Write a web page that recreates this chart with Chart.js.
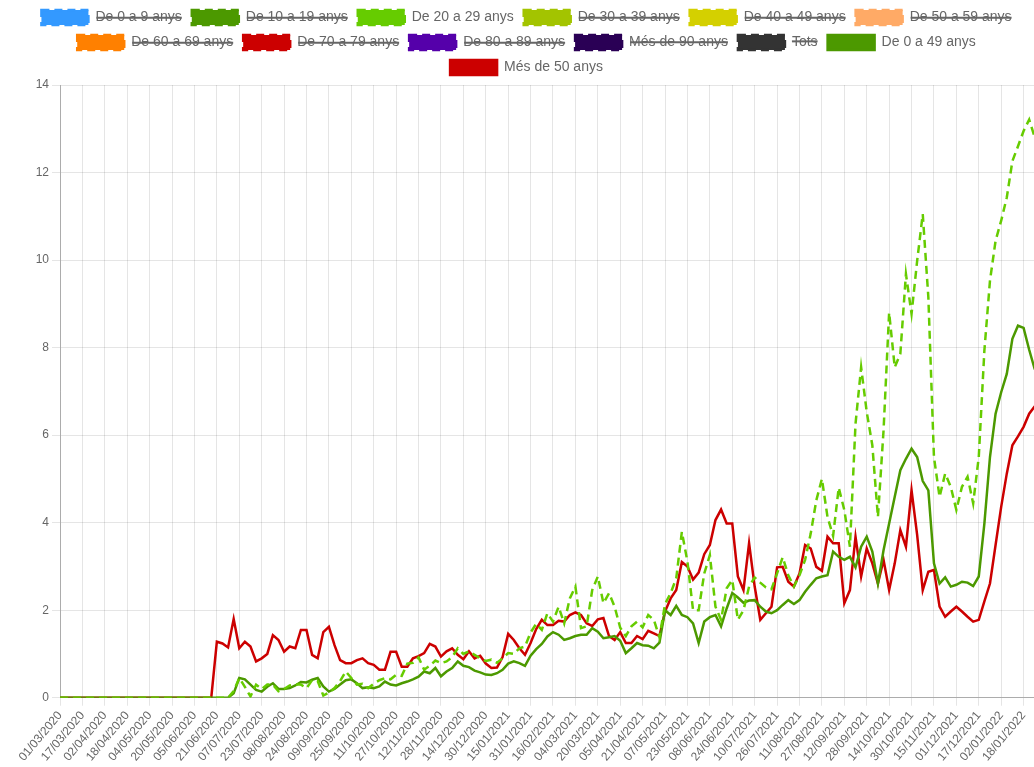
<!DOCTYPE html>
<html>
<head>
<meta charset="utf-8">
<script src="https://cdn.jsdelivr.net/npm/chart.js@4.4.0/dist/chart.umd.min.js"></script>
<style>
  html, body { margin: 0; padding: 0; overflow: hidden; background: #fff; }
  #wrap { position: relative; width: 1053px; height: 767px; }
</style>
</head>
<body>
<div id="wrap"><canvas id="chart"></canvas></div>
<script>
// Tick labels shown on the x axis (one every 16 days)
const tickLabels = [
  "01/03/2020", "17/03/2020", "02/04/2020", "18/04/2020", "04/05/2020", "20/05/2020",
  "05/06/2020", "21/06/2020", "07/07/2020", "23/07/2020", "08/08/2020", "24/08/2020",
  "09/09/2020", "25/09/2020", "11/10/2020", "27/10/2020", "12/11/2020", "28/11/2020",
  "14/12/2020", "30/12/2020", "15/01/2021", "31/01/2021", "16/02/2021", "04/03/2021",
  "20/03/2021", "05/04/2021", "21/04/2021", "07/05/2021", "23/05/2021", "08/06/2021",
  "24/06/2021", "10/07/2021", "26/07/2021", "11/08/2021", "27/08/2021", "12/09/2021",
  "28/09/2021", "14/10/2021", "30/10/2021", "15/11/2021", "01/12/2021", "17/12/2021",
  "02/01/2022", "18/01/2022"
];
const tickEvery = 16; // days between labels
const dayStep = 4;    // values below are read every 4 days from 01/03/2020

// Legend entries (datasets)
const groupNames = [
  "De 0 a 9 anys", "De 10 a 19 anys", "De 20 a 29 anys", "De 30 a 39 anys",
  "De 40 a 49 anys", "De 50 a 59 anys", "De 60 a 69 anys", "De 70 a 79 anys",
  "De 80 a 89 anys", "Més de 90 anys", "Tots", "De 0 a 49 anys", "Més de 50 anys"
];
const groupColors = [
  "#3399ff", "#4c9900", "#66cc00", "#a3c400", "#d4d000", "#ffaa66", "#ff8000",
  "#cc0000", "#5500aa", "#2a0055", "#333333", "#4c9900", "#cc0000"
];
const visibleGroups = ["De 20 a 29 anys", "De 0 a 49 anys", "Més de 50 anys"];
const dashedGroups = 11; // the first 11 datasets are dashed lines

// De 20 a 29 anys
const age20to29 = [
  0, 0, 0, 0, 0, 0, 0, 0, 0, 0, 0, 0, 0, 0, 0, 0, 0, 0, 0, 0, 0, 0, 0, 0, 0, 0, 0, 0, 0, 0, 0,
  0.15, 0.45, 0.25, 0.03, 0.3, 0.2, 0.3, 0.3, 0.15, 0.2, 0.28, 0.3, 0.3, 0.22, 0.4, 0.38,
  0.05, 0.12, 0.22, 0.38, 0.6, 0.45, 0.3, 0.32, 0.22, 0.32, 0.4, 0.45, 0.42, 0.52, 0.5,
  0.78, 0.8, 0.92, 0.64, 0.73, 0.85, 0.79, 0.83, 0.93, 1.13, 1.0, 1.06, 0.98, 0.9, 0.84,
  0.87, 0.8, 0.9, 1.02, 1.0, 1.13, 1.17, 1.49, 1.69, 1.55, 1.93, 1.74, 2.08, 1.7, 2.27,
  2.54, 1.59, 1.63, 2.46, 2.77, 2.16, 2.39, 2.08, 1.6, 1.41, 1.63, 1.74, 1.61, 1.89, 1.78,
  1.38, 2.14, 2.39, 2.73, 3.79, 3.11, 2.0, 2.0, 2.84, 3.26, 2.08, 1.78, 2.5, 2.69, 1.78,
  2.0, 2.54, 2.75, 2.63, 2.52, 2.48, 2.84, 3.21, 2.8, 2.54, 2.8, 3.15, 3.75, 4.51, 5.0,
  4.13, 3.7, 4.8, 4.29, 3.45, 6.26, 7.55, 6.53, 5.77, 4.13, 6.1, 8.8, 7.55, 7.86, 9.68,
  8.77, 9.98, 11.05, 9.15, 5.5, 4.59, 5.12, 4.82, 4.29, 4.82, 5.05, 4.44, 5.5, 7.93, 9.53,
  10.44, 10.9, 11.43, 12.26, 12.6, 12.95, 13.21, 12.8
];

// De 0 a 49 anys
const age0to49 = [
  0, 0, 0, 0, 0, 0, 0, 0, 0, 0, 0, 0, 0, 0, 0, 0, 0, 0, 0, 0, 0, 0, 0, 0, 0, 0, 0, 0, 0, 0, 0,
  0.1, 0.45, 0.42, 0.3, 0.18, 0.14, 0.25, 0.33, 0.2, 0.2, 0.22, 0.28, 0.36, 0.35, 0.41, 0.45,
  0.26, 0.14, 0.2, 0.3, 0.4, 0.42, 0.33, 0.22, 0.24, 0.22, 0.26, 0.37, 0.3, 0.28, 0.33,
  0.37, 0.42, 0.48, 0.6, 0.56, 0.68, 0.49, 0.6, 0.68, 0.83, 0.73, 0.7, 0.62, 0.58, 0.53,
  0.52, 0.56, 0.64, 0.78, 0.83, 0.79, 0.73, 0.96, 1.11, 1.23, 1.4, 1.5, 1.44, 1.32, 1.36,
  1.41, 1.44, 1.44, 1.59, 1.51, 1.36, 1.38, 1.41, 1.3, 1.02, 1.13, 1.25, 1.2, 1.19, 1.13,
  1.26, 2.0, 1.89, 2.1, 1.89, 1.84, 1.7, 1.25, 1.74, 1.84, 1.89, 1.63, 2.04, 2.39, 2.29,
  2.17, 2.22, 2.23, 2.08, 1.97, 1.93, 2.0, 2.12, 2.23, 2.14, 2.23, 2.42, 2.58, 2.73, 2.77,
  2.8, 3.34, 3.22, 3.15, 3.22, 2.98, 3.45, 3.68, 3.34, 2.61, 3.37, 3.98, 4.59, 5.2, 5.46,
  5.69, 5.5, 4.95, 4.74, 3.07, 2.61, 2.75, 2.54, 2.58, 2.65, 2.63, 2.55, 2.77, 3.98, 5.5,
  6.49, 6.98, 7.4, 8.2, 8.5, 8.45, 7.95, 7.5
];

// Més de 50 anys
const age50plus = [
  0, 0, 0, 0, 0, 0, 0, 0, 0, 0, 0, 0, 0, 0, 0, 0, 0, 0, 0, 0, 0, 0, 0, 0, 0, 0, 0, 0,
  1.28, 1.24, 1.15, 1.8, 1.13, 1.28, 1.17, 0.83, 0.9, 1.0, 1.43, 1.32, 1.05, 1.17, 1.13,
  1.55, 1.55, 0.98, 0.9, 1.5, 1.62, 1.2, 0.86, 0.79, 0.79, 0.86, 0.9, 0.79, 0.75, 0.64,
  0.64, 1.05, 1.05, 0.71, 0.71, 0.9, 0.95, 1.02, 1.23, 1.17, 0.94, 1.06, 1.13, 0.98, 0.88,
  1.06, 0.9, 0.96, 0.78, 0.68, 0.69, 0.93, 1.46, 1.32, 1.13, 0.98, 1.25, 1.57, 1.78, 1.66,
  1.66, 1.76, 1.74, 1.89, 1.95, 1.89, 1.7, 1.64, 1.79, 1.82, 1.41, 1.32, 1.5, 1.25, 1.25,
  1.41, 1.34, 1.53, 1.47, 1.41, 1.97, 2.27, 2.46, 3.1, 3.0, 2.7, 2.86, 3.28, 3.49, 4.06,
  4.3, 3.98, 3.98, 2.77, 2.46, 3.53, 2.54, 1.78, 1.93, 2.08, 2.98, 2.99, 2.65, 2.54, 2.84,
  3.49, 3.41, 2.99, 2.9, 3.68, 3.53, 3.53, 2.16, 2.46, 3.68, 2.77, 3.41, 3.07, 2.61, 3.15,
  2.46, 3.07, 3.83, 3.45, 4.74, 3.72, 2.46, 2.88, 2.92, 2.08, 1.85, 1.97, 2.08, 1.97, 1.85,
  1.74, 1.78, 2.2, 2.61, 3.49, 4.36, 5.12, 5.77, 5.97, 6.19, 6.49, 6.66
];

const seriesByName = {
  "De 20 a 29 anys": age20to29,
  "De 0 a 49 anys": age0to49,
  "Més de 50 anys": age50plus
};

function toPoints(values) {
  return values.map((v, i) => ({ x: i * dayStep, y: v }));
}

const datasets = groupNames.map((name, i) => ({
  label: name,
  data: seriesByName[name] ? toPoints(seriesByName[name]) : [],
  hidden: !visibleGroups.includes(name),
  borderColor: groupColors[i],
  backgroundColor: groupColors[i],
  borderWidth: 2.5,
  borderDash: i < dashedGroups ? [8, 5] : [],
  pointRadius: 0,
  tension: 0,
  fill: false
}));

let ctx = document.getElementById('chart').getContext('2d');

new Chart(ctx, {
  type: 'line',
  data: { datasets: datasets },
  options: {
    responsive: true,
    maintainAspectRatio: false,
    animation: false,
    plugins: {
      legend: {
        position: 'top',
        labels: {
          color: '#666',
          boxWidth: 47,
          boxHeight: 15,
          padding: 10,
          font: { size: 14 }
        }
      },
      tooltip: { enabled: false }
    },
    scales: {
      x: {
        type: 'linear',
        min: 0,
        max: 709,
        afterBuildTicks: axis => {
          axis.ticks = tickLabels.map((t, i) => ({ value: i * tickEvery }));
        },
        ticks: {
          autoSkip: false,
          minRotation: 50,
          maxRotation: 50,
          color: '#666',
          font: { size: 12 },
          callback: v => tickLabels[v / tickEvery]
        },
        grid: { color: 'rgba(0,0,0,0.1)' },
        border: { color: 'rgba(0,0,0,0.25)' }
      },
      y: {
        min: 0,
        ticks: { stepSize: 2, color: '#666', font: { size: 12 } },
        grid: { color: 'rgba(0,0,0,0.1)' },
        border: { color: 'rgba(0,0,0,0.25)' },
        afterFit: scale => { scale.width = 60; }
      }
    }
  }
});
</script>
</body>
</html>
